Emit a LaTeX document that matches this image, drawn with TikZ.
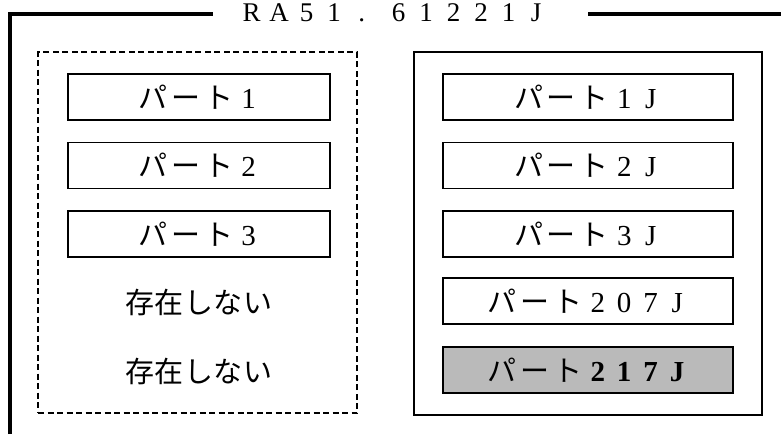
\documentclass[tikz,border=0pt]{standalone}
\usepackage{fontspec}
\newfontfamily\jp{Noto Sans CJK JP}
\newfontfamily\lat{Liberation Serif}
\makeatletter
\newcommand\spaced[2]{\@tfor\@ch:=#2\do{\makebox[#1][c]{\@ch}}}
\makeatother
\newcommand\plabel[1]{{\jp\spaced{33pt}{パート}}{\lat\spaced{26.5pt}{#1}}}
\newcommand\plabelb[1]{{\jp\spaced{33pt}{パート}}{\lat\bfseries\spaced{26.5pt}{#1}}}
\newcommand\nonex{{\jp\spaced{29.5pt}{存在しない}}}
\begin{document}
\begin{tikzpicture}[x=1pt,y=-1pt,
  txt/.style={font=\fontsize{29}{31}\selectfont, inner sep=0pt},
  lbox/.style={draw, line width=1.2pt, minimum width=262pt, minimum height=46pt, inner sep=0pt, font=\fontsize{29}{31}\selectfont},
  rbox/.style={draw, line width=1.2pt, minimum width=290pt, minimum height=46pt, inner sep=0pt, font=\fontsize{29}{31}\selectfont},
  shaded/.style={fill=black!27}]
\useasboundingbox (0,0) rectangle (781,434);
% title and outer frame
\node[inner sep=0pt, anchor=base, font=\fontsize{27}{29}\selectfont\lat] (title) at (394,21)
  {\spaced{27.5pt}{RA51.}\hspace{9.5pt}\spaced{27.5pt}{61221J}};
\coordinate (tl) at (10,14);
\coordinate (tlend) at (213,14);
\coordinate (trstart) at (588,14);
\coordinate (trend) at (781,14);
\coordinate (bl) at (10,434);
\draw[line width=3.5pt] (bl) -- (tl) -- (tlend);
\draw[line width=3.2pt] (trstart) -- (trend);
% left dashed group
\node[draw, line width=1.5pt, dash pattern=on 6pt off 3.5pt, minimum width=319pt, minimum height=361pt, inner sep=0pt] (lgroup) at (197.5,232.5) {};
% right solid group
\node[draw, line width=1.8pt, minimum width=348pt, minimum height=363pt, inner sep=0pt] (rgroup) at (588,233.5) {};
% left items
\node[lbox] (l1) at (199,97) {\plabel{1}};
\node[lbox] (l2) at (199,165.5) {\plabel{2}};
\node[lbox] (l3) at (199,234) {\plabel{3}};
\node[txt] (l4) at (199,302.5) {\nonex};
\node[txt] (l5) at (199,371) {\nonex};
% right items
\node[rbox] (r1) at (588,97) {\plabel{1J}};
\node[rbox] (r2) at (588,165.5) {\plabel{2J}};
\node[rbox] (r3) at (588,234) {\plabel{3J}};
\node[rbox] (r4) at (588,301) {\plabel{207J}};
\node[rbox, shaded] (r5) at (588,370) {\plabelb{217J}};
\end{tikzpicture}
\end{document}
